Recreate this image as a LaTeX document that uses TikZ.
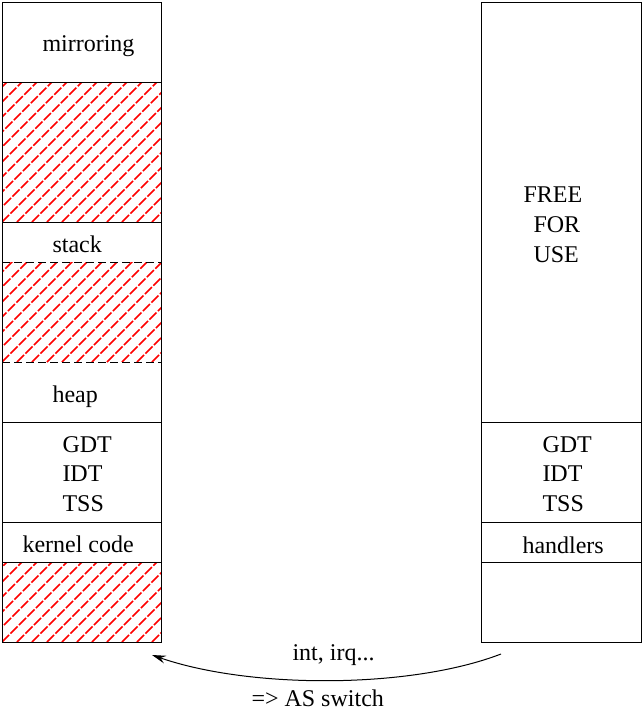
\documentclass[tikz,border=0pt]{standalone}
\usepackage{fontspec}
\setmainfont{Liberation Serif}
\usetikzlibrary{arrows.meta}
\begin{document}
\begin{tikzpicture}[x=1pt,y=-1pt, line width=1pt,
  lbl/.style={font=\fontsize{24}{28}\selectfont, inner sep=0pt, anchor=base west},
  hatchline/.style={red, line width=1.5pt, dash pattern=on 10pt off 2pt},
  dashsep/.style={dash pattern=on 8pt off 4pt},
  arrowline/.style={-{Stealth[length=14pt,width=8pt,inset=5pt]}}]
\useasboundingbox (0,0) rectangle (643,712);
% hatched areas
\foreach \ya/\yb in {82/222, 262/362, 562/642} {
  \begin{scope}
    \clip (2,\ya) rectangle (161,\yb);
    \foreach \k in {-12,...,12} \draw[hatchline] (2+\k*15,\yb) -- ++(200,-200);
  \end{scope}
}
% left column
\draw (2,2) rectangle (161,642);
\foreach \y in {82,222,422,522,562} \draw (2,\y) -- (161,\y);
\foreach \y in {262,362} \draw[dashsep] (2,\y) -- (161,\y);
% right column
\draw (481,2) rectangle (641,642);
\foreach \y in {422,522,562} \draw (481,\y) -- (641,\y);
% labels left
\node[lbl] (mirr) at (42,51) {mirroring};
\node[lbl] (stack) at (52,252) {stack};
\node[lbl] (heap) at (52,402) {heap};
\node[lbl] (gdtl) at (62,452) {GDT};
\node[lbl] (idtl) at (62,481) {IDT};
\node[lbl] (tssl) at (62,511) {TSS};
\node[lbl] (kcode) at (22,552) {kernel code};
% labels right
\node[lbl] (free) at (523,202) {FREE};
\node[lbl] (for) at (533,232) {FOR};
\node[lbl] (use) at (533,262) {USE};
\node[lbl] (gdtr) at (542,452) {GDT};
\node[lbl] (idtr) at (542,481) {IDT};
\node[lbl] (tssr) at (542,511) {TSS};
\node[lbl] (hand) at (522,553) {handlers};
% arrow
\coordinate (src) at (501,654);
\coordinate (dst) at (152,655);
\draw[arrowline] (src) .. controls (410,689) and (250,689) .. (dst);
\node[lbl] (intl) at (292,660) {int, irq...};
\node[lbl] (asw) at (251,706) {=> AS switch};
\end{tikzpicture}
\end{document}
